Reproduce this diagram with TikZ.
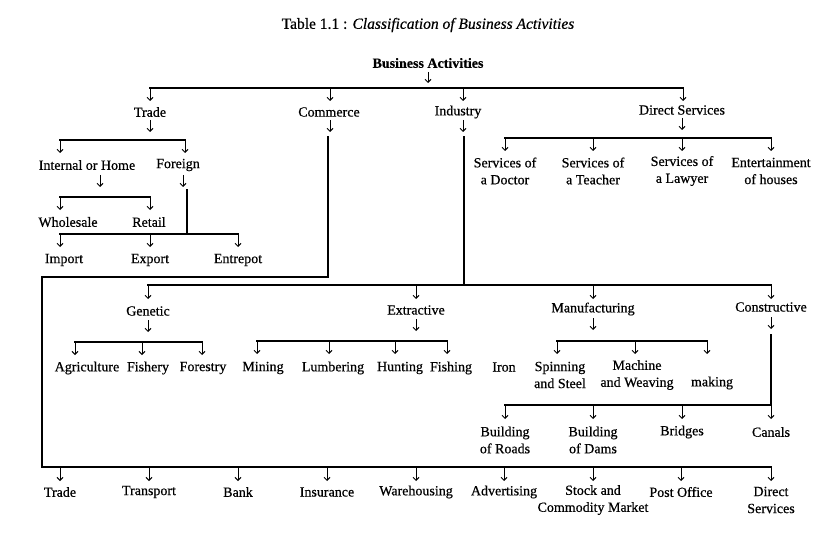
\documentclass[tikz,border=0pt]{standalone}
\usepackage{fontspec}
\setmainfont[FakeBold=0.6]{Liberation Serif}
\usetikzlibrary{arrows.meta}
\begin{document}
\begin{tikzpicture}[x=1pt,y=-1pt,
  lbl/.style={font=\fontsize{14}{17}\selectfont, align=center, inner sep=0pt},
  ln/.style={line width=1.4pt, line cap=rect},
  arr/.style={line width=1pt,-{Straight Barb[length=3pt,width=6pt]}}]
\useasboundingbox (0,0) rectangle (816,540);

% ---------- titles ----------
\node[lbl,font=\fontsize{15.5}{18}\selectfont] (title) at (428,25) {Table 1.1 : \textit{Classification of Business Activities}};
\node[lbl,font=\fontsize{14}{17}\selectfont\bfseries] (ba) at (428,63) {Business Activities};
\coordinate (baA) at (428,83);
\draw[arr] (428,72) -- (baA);
\draw[ln] (150,88) -- (683,88);
\foreach \x in {150,330,463,683} \draw[arr] (\x,88) -- (\x,101);

% ---------- level 1 ----------
\node[lbl] (trade) at (150,112) {Trade};
\node[lbl] (commerce) at (329,112) {Commerce};
\node[lbl] (industry) at (458,112) {Industry};
\node[lbl] (dserv) at (682,110) {Direct Services};

% ---------- Trade ----------
\draw[arr] (150,120) -- (150,132);
\draw[ln] (60,140) -- (185,140);
\foreach \x in {60,185} \draw[arr] (\x,140) -- (\x,153);
\node[lbl] (internal) at (87,165) {Internal or Home};
\node[lbl] (foreign) at (178,165) {Foreign};
\draw[arr] (100,175) -- (100,187);
\draw[arr] (183,175) -- (183,187);
\draw[ln] (60,197) -- (150,197);
\foreach \x in {60,150} \draw[arr] (\x,197) -- (\x,210);
\node[lbl] (wholesale) at (68,222) {Wholesale};
\node[lbl] (retail) at (149,222) {Retail};
\draw[ln] (187,190) -- (187,234);
\draw[ln] (60,234) -- (238,234);
\foreach \x in {60,150,238} \draw[arr] (\x,234) -- (\x,247);
\node[lbl] (import) at (64,260) {Import};
\node[lbl] (export) at (150,260) {Export};
\node[lbl] (entrepot) at (238,260) {Entrepot};

% ---------- Commerce ----------
\draw[arr] (330,120) -- (330,132);
\draw[ln, line join=miter] (328,137) -- (328,277) -- (42,277) -- (42,467) -- (771,467);
\foreach \x in {60,149,238,327,416,504,593,681,771} \draw[arr] (\x,467) -- (\x,481);
\node[lbl] (ctrade) at (60,492) {Trade};
\node[lbl] (transport) at (149,492) {Transport};
\node[lbl] (bank) at (238,492) {Bank};
\node[lbl] (insurance) at (327,492) {Insurance};
\node[lbl] (warehousing) at (416,492) {Warehousing};
\node[lbl] (advertising) at (504,492) {Advertising};
\node[lbl] (stock) at (593,500) {Stock and\\Commodity Market};
\node[lbl] (post) at (681,492) {Post Office};
\node[lbl] (cdirect) at (771,500) {Direct\\Services};

% ---------- Industry ----------
\draw[arr] (463,120) -- (463,132);
\draw[ln] (464,137) -- (464,285);
\draw[ln] (148,285) -- (771,285);
\foreach \x in {148,416,593,771} \draw[arr] (\x,285) -- (\x,299);
\node[lbl] (genetic) at (148,311) {Genetic};
\node[lbl] (extractive) at (416,310) {Extractive};
\node[lbl] (manufacturing) at (593,309) {Manufacturing};
\node[lbl] (constructive) at (771,307) {Constructive};

% Genetic
\draw[arr] (148,320) -- (148,332);
\draw[ln] (75,342) -- (202,342);
\foreach \x in {75,142,202} \draw[arr] (\x,342) -- (\x,355);
\node[lbl] (agriculture) at (87,368) {Agriculture};
\node[lbl] (fishery) at (148,368) {Fishery};
\node[lbl] (forestry) at (203,368) {Forestry};

% Extractive
\draw[arr] (416,319) -- (416,331);
\draw[ln] (257,341) -- (447,341);
\foreach \x in {257,329,395,447} \draw[arr] (\x,341) -- (\x,354);
\node[lbl] (mining) at (263,368) {Mining};
\node[lbl] (lumbering) at (333,368) {Lumbering};
\node[lbl] (hunting) at (400,368) {Hunting};
\node[lbl] (fishing) at (451,368) {Fishing};

% Manufacturing
\draw[arr] (593,318) -- (593,330);
\draw[ln] (557,341) -- (707,341);
\foreach \x in {557,635,707} \draw[arr] (\x,341) -- (\x,354);
\node[lbl] (iron) at (504,367) {Iron};
\node[lbl] (spinning) at (560,375) {Spinning\\and Steel};
\node[lbl] (machine) at (637,375) {Machine\\and Weaving};
\node[lbl] (making) at (712,383) {making};

% Constructive
\draw[arr] (771,317) -- (771,329);
\draw[ln] (771,335) -- (771,405);
\draw[ln] (505,405) -- (771,405);
\foreach \x in {505,593,682,771} \draw[arr] (\x,405) -- (\x,419);
\node[lbl] (roads) at (505,440) {Building\\of Roads};
\node[lbl] (dams) at (593,440) {Building\\of Dams};
\node[lbl] (bridges) at (682,432) {Bridges};
\node[lbl] (canals) at (771,432) {Canals};

% ---------- Direct Services ----------
\draw[arr] (682,118) -- (682,130);
\draw[ln] (505,138) -- (771,138);
\foreach \x in {505,593,682,771} \draw[arr] (\x,138) -- (\x,151);
\node[lbl] (doctor) at (505,171) {Services of\\a Doctor};
\node[lbl] (teacher) at (593,171) {Services of\\a Teacher};
\node[lbl] (lawyer) at (682,171) {Services of\\a Lawyer};
\node[lbl] (entertain) at (771,171) {Entertainment\\of houses};
\end{tikzpicture}
\end{document}
